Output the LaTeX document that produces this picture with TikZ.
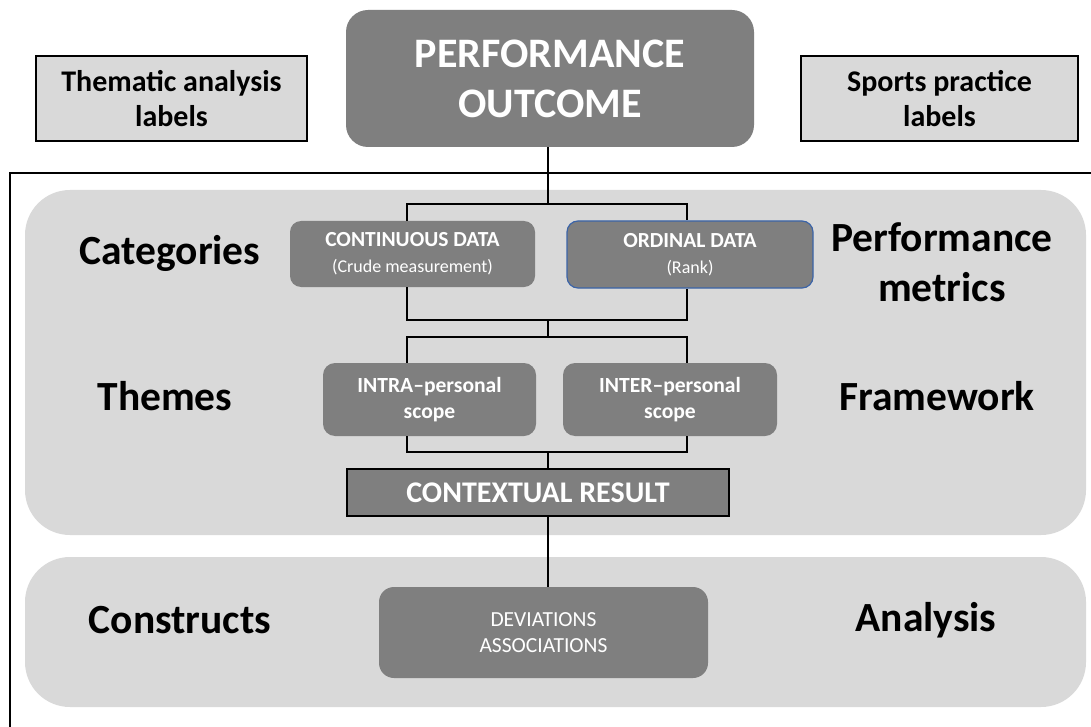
\documentclass[tikz,border=0pt]{standalone}
\usepackage{fontspec}
\setmainfont{Carlito}
\definecolor{boxgray}{HTML}{7F7F7F}
\definecolor{panelgray}{HTML}{D9D9D9}
\definecolor{ordblue}{HTML}{3B64A8}
\begin{document}
\begin{tikzpicture}[x=1pt, y=-1pt,
		labelbox/.style = {draw, fill=panelgray, line width=1.2pt, inner sep=0pt, align=center, font=\bfseries\fontsize{30}{35}\selectfont},
		darkbox/.style = {fill=boxgray, text=white, rounded corners=11pt, inner sep=0pt, align=center},
		sidetext/.style = {align=center, font=\bfseries\fontsize{41.5}{50}\selectfont},
		panel/.style = {fill=panelgray, rounded corners=45pt},
		link/.style = {line width=2.2pt}]
		\useasboundingbox (0,0) rectangle (1091,727);
		\fill[white] (0,0) rectangle (1091,727);
		\draw[line width=2pt] (10,727) -- (10,173) -- (1091,173);
		\fill[panel] (25,190) rectangle (1086,535);
		\fill[panel] (25,557) rectangle (1086,707);
		\node[labelbox, minimum width=271pt, minimum height=85pt] (thematic) at (171.5,98.5) {Thematic analysis\\labels};
		\node[labelbox, minimum width=277pt, minimum height=85pt] (sports) at (939.5,98.5) {Sports practice\\labels};
		\node[darkbox, rounded corners=22pt, minimum width=408pt, minimum height=137pt, font=\bfseries\fontsize{42}{50}\selectfont] (outcome) at (550,78.5) {PERFORMANCE\\OUTCOME};
		\node[darkbox, minimum width=245pt, minimum height=66pt, font=\fontsize{18}{26}\selectfont] (cont) at (412.5,254) {{\bfseries\fontsize{21.5}{26}\selectfont CONTINUOUS DATA}\\(Crude measurement)};
		\node[darkbox, draw=ordblue, line width=1.2pt, minimum width=246pt, minimum height=67pt, font=\fontsize{18}{26}\selectfont] (ord) at (690,254.5) {{\bfseries\fontsize{21.5}{26}\selectfont ORDINAL DATA}\\(Rank)};
		\node[darkbox, rounded corners=12pt, minimum width=213pt, minimum height=73pt, font=\bfseries\fontsize{21.6}{26}\selectfont] (intra) at (429.5,399.5) {INTRA–personal\\scope};
		\node[darkbox, rounded corners=12pt, minimum width=214pt, minimum height=73pt, font=\bfseries\fontsize{21.6}{26}\selectfont] (inter) at (670,399.5) {INTER–personal\\scope};
		\node[darkbox, draw=black, line width=1.2pt, rounded corners=0pt, minimum width=382pt, minimum height=47pt, font=\bfseries\fontsize{30}{32}\selectfont] (result) at (538,492.5) {CONTEXTUAL RESULT};
		\node[darkbox, rounded corners=15pt, minimum width=329pt, minimum height=91pt, font=\fontsize{21.5}{26}\selectfont] (dev) at (543.5,632.5) {DEVIATIONS\\ASSOCIATIONS};
		\node[sidetext] (categories) at (170,253) {Categories};
		\node[sidetext] (themes) at (165,396) {Themes};
		\node[sidetext] (constructs) at (180,620) {Constructs};
		\node[sidetext] (metrics) at (942,262) {Performance\\metrics};
		\node[sidetext] (framework) at (937,396) {Framework};
		\node[sidetext] (analysis) at (926,620) {Analysis};
		\coordinate (j1) at (548,204);
		\coordinate (la) at (407,204);
		\coordinate (ra) at (687,204);
		\coordinate (j2) at (548,320);
		\coordinate (lb) at (407,320);
		\coordinate (rb) at (687,320);
		\coordinate (j3) at (548,337);
		\coordinate (lc) at (407,337);
		\coordinate (rc) at (687,337);
		\coordinate (j4) at (548,452);
		\coordinate (ld) at (407,452);
		\coordinate (rd) at (687,452);
		\draw[link] (outcome.south -| j1) -- (j1);
		\draw[link] (la |- cont.north) -- (la) -- (ra) -- (ra |- ord.north);
		\draw[link] (lb |- cont.south) -- (lb) -- (rb) -- (rb |- ord.south);
		\draw[link] (j2) -- (j3);
		\draw[link] (lc |- intra.north) -- (lc) -- (rc) -- (rc |- inter.north);
		\draw[link] (ld |- intra.south) -- (ld) -- (rd) -- (rd |- inter.south);
		\draw[link] (j4) -- (j4 |- result.north);
		\draw[link] (result.south -| j4) -- (dev.north -| j4);
	\end{tikzpicture}
\end{document}
